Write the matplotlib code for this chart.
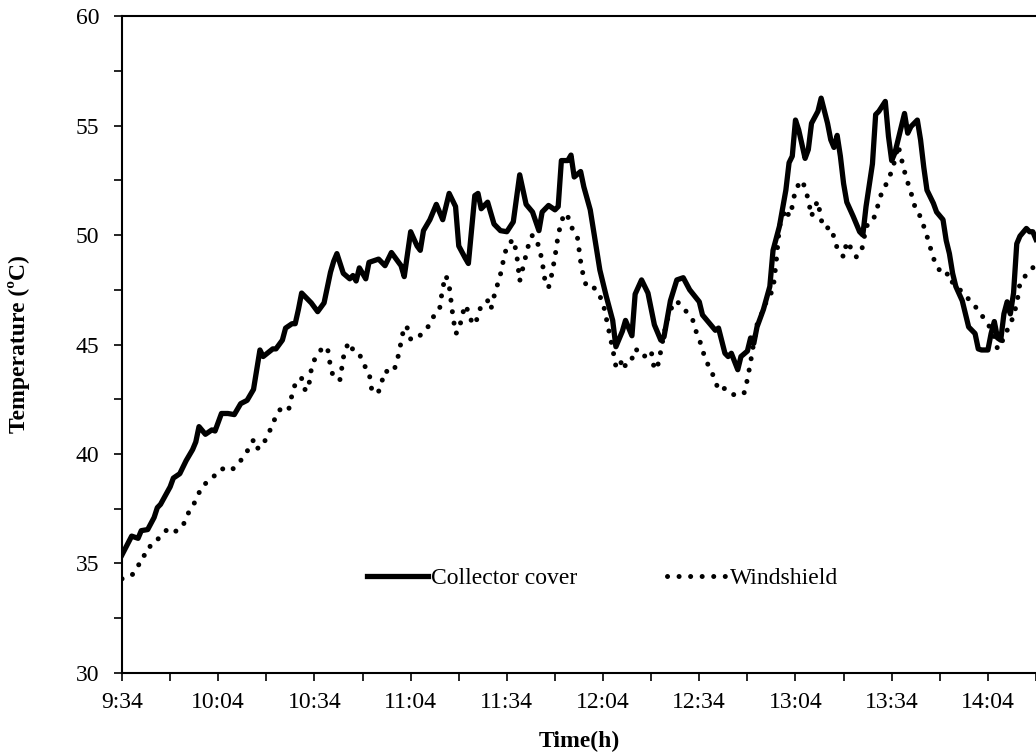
import numpy as np
import matplotlib
matplotlib.use("Agg")
import matplotlib.pyplot as plt
from matplotlib.ticker import MultipleLocator, FuncFormatter

plt.rcParams['font.family'] = ['Liberation Serif', 'DejaVu Serif']
fontsize = 17

# minutes after 9:34
cover_t = [0, 3, 5, 6, 8, 10, 11, 12, 15, 16, 18, 20, 22, 23, 24, 26, 28, 29, 31, 33,
           35, 37, 39, 41, 43, 44, 47, 48, 50, 51, 53, 54, 55, 56, 59, 61, 63, 65, 66, 67,
           69, 71, 72, 73, 74, 76, 77, 80, 82, 84, 87, 88, 90, 92, 93, 94, 96, 98, 100, 102,
           104, 105, 107, 108, 110, 111, 112, 114, 116, 118, 120, 122, 124, 126, 128, 130, 131, 133, 135, 136,
           137, 139, 140, 141, 143, 144, 146, 148, 149, 151, 153, 154, 156, 157, 159, 160, 162, 164, 166, 168,
           169, 171, 173, 175, 177, 180, 181, 183, 185, 186, 188, 189, 190, 192, 193, 195, 196, 197, 198, 200,
           202, 203, 205, 207, 208, 209, 210, 211, 213, 214, 215, 217, 218, 220, 221, 222, 223, 224, 225, 226,
           228, 230, 231, 232, 234, 235, 236, 238, 239, 240, 241, 243, 244, 245, 246, 248, 249, 250, 251, 253,
           254, 256, 257, 258, 259, 260, 262, 263, 264, 266, 267, 268, 270, 271, 272, 273, 274, 275, 276, 277,
           278, 279, 280, 282, 283, 284, 285]
cover_T = [35.4, 36.25, 36.15, 36.5, 36.55, 37.1, 37.55, 37.7, 38.5, 38.9, 39.1, 39.7, 40.2, 40.55, 41.25, 40.9, 41.1, 41.05, 41.85, 41.85,
           41.8, 42.3, 42.45, 42.95, 44.75, 44.45, 44.8, 44.8, 45.2, 45.75, 45.95, 45.95, 46.6, 47.35, 46.9, 46.5, 46.9, 48.3, 48.8, 49.15,
           48.25, 48.0, 48.15, 47.9, 48.5, 48.0, 48.75, 48.9, 48.6, 49.2, 48.6, 48.1, 50.15, 49.5, 49.3, 50.2, 50.7, 51.4, 50.7, 51.9,
           51.3, 49.5, 48.95, 48.7, 51.8, 51.9, 51.2, 51.5, 50.5, 50.2, 50.15, 50.6, 52.75, 51.4, 51.05, 50.2, 51.05, 51.35, 51.15, 51.3,
           53.4, 53.4, 53.65, 52.65, 52.9, 52.2, 51.15, 49.3, 48.4, 47.2, 46.1, 44.9, 45.6, 46.1, 45.4, 47.3, 47.95, 47.35, 45.9, 45.2,
           45.35, 47.0, 47.95, 48.05, 47.5, 46.95, 46.35, 46.0, 45.65, 45.75, 44.6, 44.45, 44.6, 43.85, 44.45, 44.7, 45.3, 45.05, 45.8, 46.6,
           47.65, 49.3, 50.4, 52.05, 53.3, 53.6, 55.25, 54.8, 53.5, 53.9, 55.1, 55.65, 56.25, 55.1, 54.35, 54.0, 54.55, 53.6, 52.35, 51.5,
           50.85, 50.15, 50.0, 51.3, 53.25, 55.5, 55.65, 56.1, 54.5, 53.4, 53.75, 54.95, 55.55, 54.65, 54.95, 55.25, 54.35, 53.1, 52.05, 51.45,
           51.05, 50.7, 49.75, 49.15, 48.25, 47.65, 47.0, 46.4, 45.8, 45.5, 44.8, 44.75, 44.75, 45.5, 46.05, 45.3, 45.2, 46.4, 46.95, 46.4,
           47.35, 49.6, 49.95, 50.3, 50.15, 50.15, 49.8]

shield_t = [0, 3, 5, 6, 8, 9, 12, 14, 16, 19, 20, 22, 23, 25, 28, 30, 32, 34, 36, 38,
            40, 41, 42, 44, 45, 47, 48, 50, 52, 53, 54, 55, 56, 57, 58, 59, 60, 62, 63, 64,
            65, 66, 68, 69, 70, 71, 72, 74, 75, 77, 78, 80, 81, 82, 84, 85, 86, 87, 88, 89,
            90, 92, 94, 96, 97, 99, 100, 101, 102, 103, 104, 105, 106, 107, 108, 109, 110, 111, 112, 114,
            115, 116, 117, 118, 119, 120, 122, 123, 124, 125, 126, 127, 128, 130, 131, 132, 133, 134, 135, 136,
            137, 138, 139, 140, 142, 143, 144, 145, 147, 148, 150, 151, 152, 153, 154, 155, 156, 157, 159, 160,
            161, 162, 164, 165, 166, 167, 168, 169, 170, 171, 173, 174, 176, 178, 179, 180, 181, 182, 184, 185,
            186, 188, 190, 192, 194, 195, 196, 197, 198, 200, 201, 203, 204, 205, 206, 207, 208, 209, 210, 212,
            213, 214, 215, 216, 217, 218, 219, 221, 222, 223, 225, 226, 228, 229, 230, 231, 232, 234, 235, 236,
            237, 239, 240, 241, 242, 243, 244, 245, 246, 247, 248, 249, 250, 251, 252, 253, 254, 256, 258, 259,
            261, 263, 265, 267, 269, 271, 272, 273, 274, 275, 277, 278, 279, 280, 282, 284, 285]
shield_T = [34.3, 34.45, 34.85, 35.3, 35.45, 35.9, 36.2, 36.55, 36.4, 36.7, 37.15, 37.6, 37.9, 38.55, 38.85, 39.25, 39.35, 39.25, 39.5, 39.9,
            40.35, 40.65, 40.25, 40.35, 40.8, 41.3, 41.8, 42.15, 42.05, 42.7, 43.2, 43.45, 43.45, 42.95, 42.9, 43.85, 44.3, 44.75, 44.85, 44.9,
            44.0, 43.45, 43.4, 44.4, 44.9, 45.1, 44.75, 44.6, 44.15, 43.75, 42.8, 42.85, 43.3, 43.8, 43.7, 43.9, 44.4, 45.1, 45.85, 45.75,
            45.25, 45.25, 45.6, 45.9, 46.25, 46.6, 47.6, 48.15, 47.7, 46.5, 45.5, 45.6, 46.3, 46.8, 46.5, 46.05, 45.9, 46.3, 46.8, 47.0,
            46.6, 47.2, 47.7, 48.2, 48.9, 49.5, 49.8, 49.2, 47.9, 48.5, 49.1, 49.7, 50.0, 49.5, 48.8, 47.8, 47.6, 48.2, 49.0, 50.0,
            50.6, 51.0, 50.85, 50.4, 49.9, 48.8, 48.0, 47.6, 47.6, 47.5, 46.9, 46.2, 45.5, 44.8, 44.0, 43.9, 44.35, 44.0, 44.35, 44.8,
            44.7, 44.45, 44.5, 44.7, 43.85, 44.0, 44.7, 45.5, 46.1, 46.6, 47.0, 46.8, 46.5, 46.1, 45.6, 45.25, 44.75, 44.3, 43.7, 43.35,
            42.9, 43.0, 42.75, 42.65, 42.8, 43.4, 44.2, 45.1, 45.9, 46.6, 47.0, 47.5, 48.8, 50.4, 50.8, 51.2, 50.85, 51.3, 52.1, 52.5,
            52.15, 51.6, 50.85, 51.3, 51.55, 50.7, 50.3, 50.35, 49.9, 49.4, 49.0, 49.7, 49.25, 49.0, 49.1, 49.5, 50.4, 50.6, 51.0, 51.5,
            52.0, 52.5, 52.95, 53.4, 54.1, 53.5, 52.9, 52.4, 51.95, 51.4, 51.0, 50.85, 50.4, 49.95, 49.45, 48.95, 48.6, 48.15, 48.25, 47.8,
            47.55, 47.2, 46.95, 46.55, 46.15, 45.7, 45.35, 44.8, 44.9, 45.4, 45.9, 46.35, 46.85, 47.8, 48.2, 48.5, 48.8]

start_h, start_m = 9, 34


def clock(x, pos):
    m = int(round(x)) + start_h * 60 + start_m
    return "%d:%02d" % (m // 60, m % 60)


fig = plt.figure(figsize=(10.36, 7.56), dpi=100)
ax = fig.add_axes([0.1178, 0.1098, 0.8822, 0.869])

ax.plot(cover_t, cover_T, color='black', lw=3.8, solid_joinstyle='round',
        label='Collector cover')
ax.plot(shield_t, shield_T, color='black', lw=3.6, linestyle=(0, (0.01, 2.3)),
        dash_capstyle='round', label='Windshield')

ax.set_xlim(0, 285)
ax.set_ylim(30, 60)
ax.xaxis.set_major_locator(MultipleLocator(30))
ax.xaxis.set_minor_locator(MultipleLocator(15))
ax.xaxis.set_major_formatter(FuncFormatter(clock))
ax.yaxis.set_major_locator(MultipleLocator(5))
ax.yaxis.set_minor_locator(MultipleLocator(2.5))

ax.tick_params(which='both', direction='out', length=5.5, width=1.2, labelsize=fontsize)
ax.tick_params(axis='x', which='major', pad=8)
ax.tick_params(axis='y', which='major', pad=11)

ax.spines['right'].set_visible(False)
for s in ['left', 'bottom', 'top']:
    ax.spines[s].set_linewidth(1.5)

ax.set_xlabel('Time(h)', fontsize=fontsize, fontweight='bold', labelpad=13)
ax.set_ylabel('Temperature (ºC)', fontsize=fontsize, fontweight='bold', labelpad=33)

ax.legend(loc='lower center', bbox_to_anchor=(0.526, 0.095), ncol=2, frameon=False,
          fontsize=fontsize, handlelength=2.6, handletextpad=0.1, columnspacing=3.8)

fig.savefig('out.png', dpi=100)
